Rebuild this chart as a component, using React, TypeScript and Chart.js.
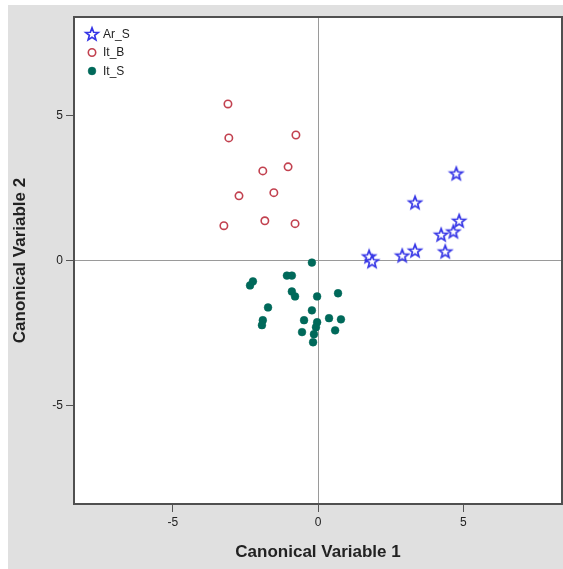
import React, { useEffect, useRef } from "react";
import { Chart, registerables } from "chart.js";

Chart.register(...registerables);

const seriesNames = ["Ar_S", "It_B", "It_S"];

const arS_x = [1.76, 1.86, 2.9, 3.34, 3.34, 4.24, 4.38, 4.66, 4.86, 4.76];
const arS_y = [0.14, -0.03, 0.17, 0.34, 2.0, 0.89, 0.31, 1.0, 1.37, 3.0];

const itB_x = [-3.1, -3.07, -0.76, -1.9, -1.03, -2.72, -1.52, -3.24, -1.83, -0.79];
const itB_y = [5.4, 4.23, 4.33, 3.09, 3.23, 2.23, 2.34, 1.2, 1.37, 1.27];

const itS_x = [-0.21, -1.07, -0.9, -2.24, -2.34, -0.9, -0.79, -0.03, 0.69, -1.72, -0.21,
  -1.9, -1.93, -0.48, -0.03, 0.38, 0.79, -0.07, -0.14, -0.55, 0.59, -0.17];
const itS_y = [-0.07, -0.52, -0.52, -0.72, -0.86, -1.07, -1.24, -1.24, -1.13, -1.62, -1.72,
  -2.06, -2.23, -2.06, -2.13, -1.99, -2.03, -2.3, -2.54, -2.47, -2.41, -2.82];

const axisMin = -8.4;
const axisMax = 8.4;
const tickValues = [-5, 0, 5];

const xTitle = "Canonical Variable 1";
const yTitle = "Canonical Variable 2";

function makeStar(color: string, outer: number, inner: number) {
  const c = document.createElement("canvas");
  const s = Math.ceil(outer * 2 + 4);
  c.width = s;
  c.height = s;
  const ctx = c.getContext("2d")!;
  const cx = s / 2;
  const cy = s / 2 + 0.5;
  ctx.beginPath();
  for (let i = 0; i < 10; i++) {
    const r = i % 2 === 0 ? outer : inner;
    const a = -Math.PI / 2 + (i * Math.PI) / 5;
    const px = cx + r * Math.cos(a);
    const py = cy + r * Math.sin(a);
    if (i === 0) ctx.moveTo(px, py);
    else ctx.lineTo(px, py);
  }
  ctx.closePath();
  ctx.fillStyle = "#ffffff";
  ctx.fill();
  ctx.strokeStyle = color;
  ctx.lineWidth = 1.7;
  ctx.lineJoin = "miter";
  ctx.stroke();
  return c;
}

function zip(xs: number[], ys: number[]) {
  return xs.map((x, i) => ({ x, y: ys[i] }));
}

export default function App() {
  const ref = useRef<HTMLCanvasElement | null>(null);

  useEffect(() => {
    if (!ref.current) return;
    const star = makeStar("#3535e6", 6.6, 2.8);

    const plotDecor = {
      id: "plotDecor",
      beforeDraw(chart: any) {
        const { ctx, chartArea: a } = chart;
        ctx.save();
        ctx.fillStyle = "#ffffff";
        ctx.fillRect(a.left, a.top, a.right - a.left, a.bottom - a.top);
        ctx.restore();
      },
      afterDraw(chart: any) {
        const { ctx, chartArea: a } = chart;
        ctx.save();
        ctx.strokeStyle = "#505050";
        ctx.lineWidth = 2;
        ctx.strokeRect(a.left, a.top, a.right - a.left, a.bottom - a.top);
        // legend
        const lx = a.left + 18;
        const tx = a.left + 29;
        let ly = a.top + 17;
        ctx.font = "12px 'Liberation Sans', Arial, sans-serif";
        ctx.textBaseline = "middle";
        ctx.textAlign = "left";
        chart.data.datasets.forEach((ds: any) => {
          if (ds.pointStyle && typeof ds.pointStyle !== "string") {
            const img = ds.pointStyle;
            ctx.drawImage(img, lx - img.width / 2, ly - img.height / 2);
          } else {
            ctx.beginPath();
            ctx.arc(lx, ly, ds.pointRadius, 0, Math.PI * 2);
            ctx.fillStyle = ds.pointBackgroundColor;
            ctx.fill();
            ctx.lineWidth = ds.pointBorderWidth;
            ctx.strokeStyle = ds.pointBorderColor;
            ctx.stroke();
          }
          ctx.fillStyle = "#222222";
          ctx.fillText(ds.label, tx, ly + 0.5);
          ly += 18.5;
        });
        ctx.restore();
      },
    };

    const gridColor = (c: any) => (c.tick && c.tick.value === 0 ? "#9a9a9a" : "rgba(0,0,0,0)");
    const tickFont = { family: "'Liberation Sans', Arial, sans-serif", size: 12 };
    const titleFont = { family: "'Liberation Sans', Arial, sans-serif", size: 17, weight: "bold" as const };

    const chart = new Chart(ref.current, {
      type: "scatter",
      data: {
        datasets: [
          {
            label: seriesNames[0],
            data: zip(arS_x, arS_y),
            pointStyle: star as any,
            pointRadius: 6,
            pointBorderColor: "#3535e6",
            pointBackgroundColor: "#ffffff",
          },
          {
            label: seriesNames[1],
            data: zip(itB_x, itB_y),
            pointStyle: "circle",
            pointRadius: 3.7,
            pointBorderWidth: 1.6,
            pointBorderColor: "#c2414f",
            pointBackgroundColor: "#ffffff",
          },
          {
            label: seriesNames[2],
            data: zip(itS_x, itS_y),
            pointStyle: "circle",
            pointRadius: 3.9,
            pointBorderWidth: 0.5,
            pointBorderColor: "#00695a",
            pointBackgroundColor: "#00695a",
          },
        ],
      },
      options: {
        responsive: false,
        animation: false,
        devicePixelRatio: 1,
        layout: { autoPadding: false, padding: { left: 0, top: 12, right: 1, bottom: 0 } },
        plugins: { legend: { display: false }, tooltip: { enabled: false } },
        scales: {
          x: {
            type: "linear",
            min: axisMin,
            max: axisMax,
            afterBuildTicks: (s: any) => {
              s.ticks = tickValues.map((v) => ({ value: v }));
            },
            afterFit: (s: any) => {
              s.height = 65;
            },
            grid: { color: gridColor, tickColor: "#555555", tickLength: 8, lineWidth: 1 },
            border: { display: false },
            ticks: { font: tickFont, color: "#222222", padding: 3, maxRotation: 0 },
            title: { display: true, text: xTitle, font: titleFont, color: "#222222", padding: { top: 4, bottom: 6 } },
          },
          y: {
            type: "linear",
            min: axisMin,
            max: axisMax,
            afterBuildTicks: (s: any) => {
              s.ticks = tickValues.map((v) => ({ value: v }));
            },
            afterFit: (s: any) => {
              s.width = 66;
            },
            grid: { color: gridColor, tickColor: "#555555", tickLength: 8, lineWidth: 1 },
            border: { display: false },
            ticks: { font: tickFont, color: "#222222", padding: 3 },
            title: { display: true, text: yTitle, font: titleFont, color: "#222222", padding: { top: 2, bottom: 4 } },
          },
        },
      },
      plugins: [plotDecor],
    });
    return () => chart.destroy();
  }, []);

  return (
    <div style={{ position: "absolute", left: 8, top: 5, width: 555, height: 564, background: "#e0e0e0" }}>
      <canvas ref={ref} width={555} height={564} style={{ display: "block", width: 555, height: 564 }} />
    </div>
  );
}
